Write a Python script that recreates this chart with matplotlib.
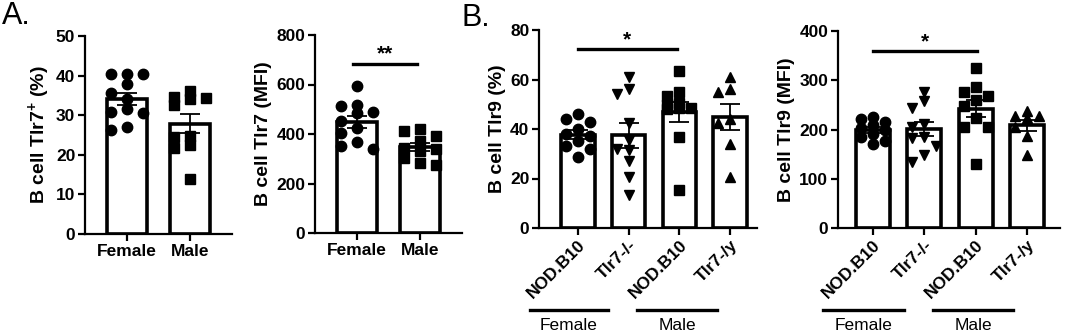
import numpy as np
import matplotlib
matplotlib.use("Agg")
import matplotlib.pyplot as plt
from matplotlib.lines import Line2D

plt.rcParams["font.family"] = ["Liberation Sans", "DejaVu Sans"]
plt.rcParams["font.weight"] = "bold"
plt.rcParams["mathtext.fontset"] = "custom"
plt.rcParams["mathtext.bf"] = "Liberation Sans:bold"
plt.rcParams["mathtext.rm"] = "Liberation Sans:bold"
plt.rcParams["mathtext.default"] = "bf"

# ---------------------------------------------------------------------------
# data
# ---------------------------------------------------------------------------
a_groups = ["Female", "Male"]
a1_female = [40.4, 40.4, 40.4, 37.8, 35.7, 34.0, 31.6, 30.9, 30.5, 26.2, 27.1]
a1_male = [34.4, 34.5, 36.2, 34.1, 32.6, 24.7, 24.4, 22.4, 21.8, 13.9]
a2_female = [595, 490, 485, 514, 516, 451, 424, 406, 366, 339, 350]
a2_male = [412, 420, 390, 370, 343, 333, 338, 305, 275, 282]

b_groups = ["NOD.B10", "Tlr7-/-", "NOD.B10", "Tlr7-/y"]
b1_f_wt = [46, 44, 43, 40, 38, 37, 35, 33, 32, 28.5]
b1_f_ko = [60.9, 56.1, 54.2, 42.4, 35.6, 32.0, 31.6, 26.9, 20.8, 13.4]
b1_m_wt = [63.6, 53.4, 55.1, 50.4, 49.7, 48.4, 48.0, 48.4, 36.7, 15.4]
b1_m_ko = [61.2, 54.9, 56.1, 42.4, 44.2, 34.0, 20.8]
b2_f_wt = [226, 222, 216, 210, 203, 198, 190, 184, 176, 170]
b2_f_ko = [277, 257, 243, 211, 205, 184, 182, 167, 149, 135]
b2_m_wt = [324, 286, 276, 268, 259, 247, 223, 205, 205, 130]
b2_m_ko = [238, 223, 228, 228, 205, 186, 149]

W, H = 1065, 336
fig = plt.figure(figsize=(W / 100, H / 100), dpi=100)


def px_axes(x0, x1, y0, y1):
    return fig.add_axes([x0 / W, 1 - y1 / H, (x1 - x0) / W, (y1 - y0) / H])


def swarm(values, xpx_per_unit, ypx_per_unit, step=14, mind=9, maxk=1):
    """simple beeswarm in pixel space, returns x offsets in data units"""
    order = np.argsort(values)[::-1]
    placed = []
    offs = np.zeros(len(values))
    ks = [0]
    for k in range(1, maxk + 1):
        ks += [-k, k]
    for i in order:
        y = values[i] * ypx_per_unit
        best, bestd = 0, -1
        for k in ks:
            x = k * step
            d = min([np.hypot(x - px, y - py) for px, py in placed] or [1e9])
            if d >= mind:
                best = x
                break
            if d > bestd:
                best, bestd = x, d
        placed.append((best, y))
        offs[i] = best / xpx_per_unit
    return offs


def panel(ax, series, markers, ylim, yticks, ylabel, xlim, width, xlabels,
          step, rotate=False):
    x0, x1 = ax.get_position().x0 * W, ax.get_position().x1 * W
    xppu = (x1 - x0) / (xlim[1] - xlim[0])
    yppu = ax.get_position().height * H / (ylim[1] - ylim[0])
    for i, (vals, m) in enumerate(zip(series, markers)):
        vals = np.asarray(vals, float)
        mean = vals.mean()
        sem = vals.std(ddof=1) / np.sqrt(len(vals))
        ax.bar(i, mean, width=width, facecolor="white", edgecolor="black",
               linewidth=2.6, zorder=1)
        offs = swarm(vals, xppu, yppu, step=step)
        ax.plot(i + offs, vals, linestyle="none", marker=m, ms=7.5,
                color="black", zorder=2, clip_on=False)
        ax.errorbar(i, mean, yerr=sem, color="black", capsize=7,
                    capthick=1.3, elinewidth=1.3, zorder=3)
    ax.set_xlim(*xlim)
    ax.set_ylim(*ylim)
    ax.set_yticks(yticks)
    ax.set_xticks(range(len(series)))
    if rotate:
        ax.set_xticklabels(xlabels, rotation=45, ha="right", va="top",
                           rotation_mode="anchor", fontsize=12.5,
                           fontweight="bold")
    else:
        ax.set_xticklabels(xlabels, fontsize=12.5, fontweight="bold")
    ax.set_ylabel(ylabel, fontsize=14, fontweight="bold", labelpad=3)
    for s in ["top", "right"]:
        ax.spines[s].set_visible(False)
    for s in ["left", "bottom"]:
        ax.spines[s].set_linewidth(1.6)
    ax.tick_params(width=1.6, length=5, labelsize=12.5, pad=2)


def sig(ax, xa, xb, y, text):
    ax.plot([xa, xb], [y, y], color="black", lw=2.4, clip_on=False)
    ax.text((xa + xb) / 2, y, text, ha="center", va="bottom",
            fontsize=15, fontweight="bold")


# A. left
ax1 = px_axes(85, 232, 36, 234)
panel(ax1, [a1_female, a1_male], ["o", "s"], (0, 50), range(0, 51, 10),
      "B cell Tlr7$^{+}$ (%)", (-0.667, 1.667), 0.63, a_groups, step=16)

# A. right
ax2 = px_axes(315, 462, 35, 233)
panel(ax2, [a2_female, a2_male], ["o", "s"], (0, 800), range(0, 801, 200),
      "B cell Tlr7 (MFI)", (-0.667, 1.667), 0.63, a_groups, step=16)
sig(ax2, -0.06, 0.95, 684, "**")

# B. left
ax3 = px_axes(539, 757, 30, 228)
panel(ax3, [b1_f_wt, b1_f_ko, b1_m_wt, b1_m_ko], ["o", "v", "s", "^"],
      (0, 80), range(0, 81, 20), "B cell Tlr9 (%)", (-0.77, 3.53), 0.66,
      b_groups, step=12, rotate=True)
sig(ax3, 0, 1.95, 72.2, "*")

# B. right
ax4 = px_axes(838, 1060, 31, 228)
panel(ax4, [b2_f_wt, b2_f_ko, b2_m_wt, b2_m_ko], ["o", "v", "s", "^"],
      (0, 400), range(0, 401, 100), "B cell Tlr9 (MFI)", (-0.68, 3.645), 0.66,
      b_groups, step=12, rotate=True)
sig(ax4, 0, 2.03, 359, "*")

# group brackets below rotated labels
for (xa, xb, lab) in [(530, 608, "Female"), (637, 717, "Male"),
                      (823, 904, "Female"), (933, 1013, "Male")]:
    fig.add_artist(Line2D([xa / W, xb / W], [1 - 310 / H, 1 - 310 / H],
                          color="black", lw=2.4))
    fig.text((xa + xb) / 2 / W, 1 - 326 / H, lab, ha="center", va="center",
             fontsize=12.5, fontweight="normal")

fig.text(2 / W, 1 - 1 / H, "A.", ha="left", va="top", fontsize=22,
         fontweight="normal")
fig.text(462 / W, 1 - 3 / H, "B.", ha="left", va="top", fontsize=22,
         fontweight="normal")

fig.savefig("out.png", dpi=100)
